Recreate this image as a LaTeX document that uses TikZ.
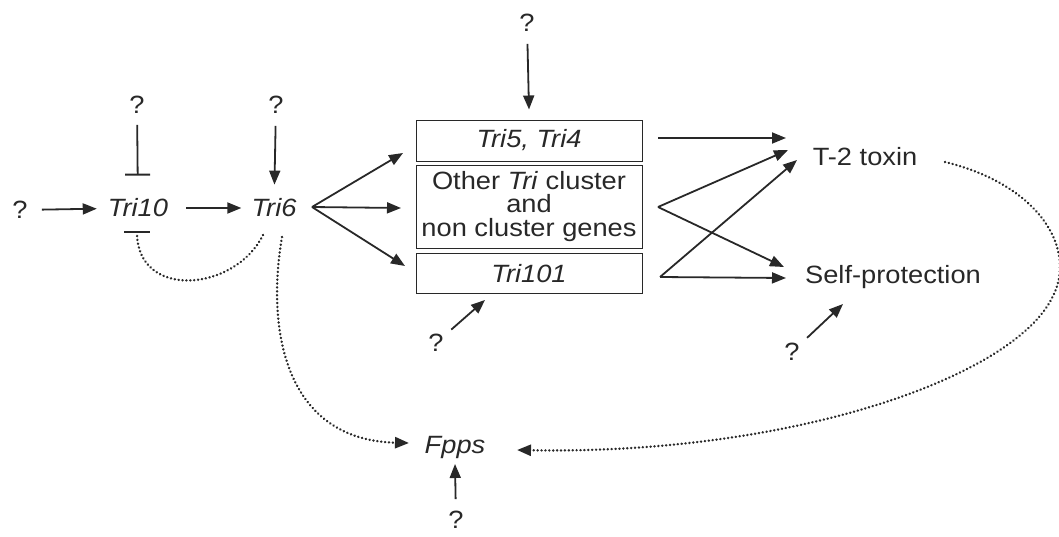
\documentclass[tikz,border=0pt]{standalone}
\usepackage{fontspec}
\setmainfont{Liberation Sans}[FakeStretch=1.09]
\usetikzlibrary{arrows.meta,calc}
\definecolor{ink}{RGB}{40,40,40}
\begin{document}
\begin{tikzpicture}[x=1pt,y=-1pt,
  every node/.style={font=\fontsize{25}{23.5}\selectfont, text=ink, inner sep=0pt},
  arr/.style={draw=ink, line width=1.8pt, -{Triangle[length=14pt,width=11pt]}},
  inh/.style={draw=ink, line width=1.8pt, -{Bar[width=25pt,line width=2pt]}},
  dots/.style={draw=ink, line width=2.6pt, line cap=round, dash pattern=on 0.1pt off 3.8pt},
  genebox/.style={draw=ink, line width=1pt, minimum width=226pt, align=center}]
\useasboundingbox (0,0) rectangle (1059,536);

% nodes
\node (q1) at (20,210) {?};
\node (tri10) at (138,208) {\itshape Tri10};
\node (tri6) at (274,208) {\itshape Tri6};
\node (q2) at (137,105) {?};
\node (q3) at (276,105) {?};
\node (qtop) at (527,23) {?};
\node[genebox, minimum height=41pt] (box1) at (529,140.5) {\itshape Tri5, Tri4};
\node[genebox, minimum height=83pt] (box2) at (529,206.5) {Other \textit{Tri} cluster\\and\\non cluster genes};
\node[genebox, minimum height=40pt] (box3) at (529,273.5) {\itshape Tri101};
\node (q4) at (436,343) {?};
\node (t2) at (865,157) {T-2 toxin};
\node (self) at (893,277) {Self-protection};
\node (q5) at (792,352) {?};
\node (fpps) at (455,447) {\itshape Fpps};
\node (q6) at (456,520) {?};

% helper coordinates
\coordinate (fan) at (312,207);
\coordinate (b1in) at (403,153);
\coordinate (b2in) at (401,208);
\coordinate (b3in) at (405,266);
\coordinate (b1out) at (658,138);
\coordinate (b2out) at (658,207);
\coordinate (b3out) at (660,277);
\coordinate (t2a) at (786,138);
\coordinate (t2b) at (788,150);
\coordinate (t2c) at (797,160);
\coordinate (sfa) at (784,267);
\coordinate (sfb) at (786,278);
\coordinate (b3q) at (485,300);
\coordinate (sfq) at (843,304);
\coordinate (fpq) at (455,464);
\coordinate (t2d) at (945,162);
\coordinate (fpR) at (517,450);
\coordinate (fpL) at (409,443);
\coordinate (tri6d) at (282,237);
\coordinate (tri6e) at (263,235);
\coordinate (tri10b) at (137,231);

% solid connectors
\draw[arr, shorten <=14pt, shorten >=11pt] (q1) -- (tri10);
\draw[arr, shorten <=18pt, shorten >=10pt] (tri10) -- (tri6);
\draw[inh, shorten <=11pt, shorten >=23pt] (q2) -- (tri10);
\draw[arr, shorten <=12pt, shorten >=14pt] (q3) -- (tri6);
\draw[arr, shorten <=12pt] (qtop) -- ([yshift=10pt]box1.north);
\draw[arr] (fan) -- (b1in);
\draw[arr] (fan) -- (b2in);
\draw[arr] (fan) -- (b3in);
\draw[arr] (b1out) -- (t2a);
\draw[arr] (b2out) -- (t2b);
\draw[arr] (b2out) -- (sfa);
\draw[arr] (b3out) -- (t2c);
\draw[arr] (b3out) -- (sfb);
\draw[arr, shorten <=10pt] (q4) -- (b3q);
\draw[arr, shorten <=10pt] (q5) -- (sfq);
\draw[arr, shorten <=12pt] (q6) -- (fpq);

% dotted connectors
\draw[dots, -{Bar[width=26pt,line width=2pt]}] (tri6e) .. controls (235,292) and (137,300) .. (tri10b);
\draw[dots, -{Triangle[length=14pt,width=11pt]}] (tri6d) .. controls (266,330) and (285,440) .. (fpL);
\draw[dots, -{Triangle[length=14pt,width=11pt]}] (t2d) .. controls (1040,185) and (1078,250) .. (1052,298) .. controls (1012,378) and (790,455) .. (fpR);
\end{tikzpicture}
\end{document}
